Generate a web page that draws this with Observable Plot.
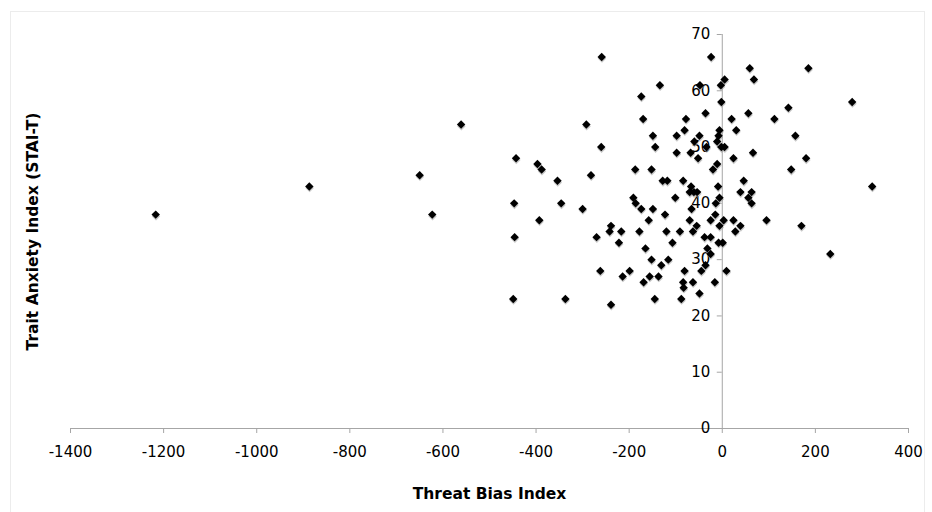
<!DOCTYPE html>
<html>
<head>
<meta charset="utf-8">
<script src="https://cdn.jsdelivr.net/npm/d3@7"></script>
<script src="https://cdn.jsdelivr.net/npm/@observablehq/plot@0.6"></script>
<style>
  html, body { margin: 0; padding: 0; background: #fff; }
  #wrap { position: relative; width: 932px; height: 512px; overflow: hidden; }
  #border { position: absolute; left: 10px; top: 11px; width: 915px; height: 520px; border: 1px solid #ececec; box-sizing: border-box; }
  #chart { position: absolute; left: 0; top: 0; }
</style>
</head>
<body>
<div id="wrap"><div id="border"></div><div id="chart"></div></div>
<script>
const threatBias = [
  -1217, -887, -650, -623, -561, -443, -397, -388, -354, -447, -346, -393, -446, -449, -337,
  -300, -292, -282, -259, -260, -270, -262, -239, -242, -217, -222, -239, -214, -199, -191,
  -186, -174, -187, -174, -170, -134, -178, -165, -158, -169, -156, -137, -149, -152, -149,
  -144, -128, -118, -123, -152, -131, -116, -120, -107, -145, -101, -98, -98, -81, -78,
  -84, -91, -88, -81, -84, -83, -67, -70, -61, -54, -66, -70, -55, -63, -63,
  -68, -60, -52, -49, -48, -36, -34, -24, -45, -49, -38, -25, -32, -25, -36,
  -25, -15, -16, -9, -6, -14, -6, -8, 1, 3, 9, -11, -20, -6, -8,
  -11, -2, 5, -3, 5, -2, 20, 30, 24, 24, 28, 39, 59, 68, 56,
  66, 46, 39, 63, 56, 63, 95, 112, 142, 157, 148, 180, 185, 170, 232,
  279, 322
];
const traitAnxiety = [
  38, 43, 45, 38, 54, 48, 47, 46, 44, 40, 40, 37, 34, 23, 23,
  39, 54, 45, 66, 50, 34, 28, 36, 35, 35, 33, 22, 27, 28, 41,
  40, 39, 46, 59, 55, 61, 35, 32, 37, 26, 27, 27, 39, 46, 52,
  50, 44, 44, 38, 30, 29, 30, 35, 33, 23, 41, 52, 49, 53, 55,
  44, 35, 23, 28, 26, 25, 43, 42, 42, 42, 39, 37, 36, 35, 26,
  49, 51, 48, 52, 61, 56, 50, 66, 28, 24, 34, 34, 32, 31, 29,
  37, 38, 26, 43, 41, 40, 36, 33, 33, 37, 28, 47, 46, 53, 52,
  51, 50, 50, 61, 62, 58, 55, 53, 48, 37, 35, 36, 64, 62, 56,
  49, 44, 42, 42, 41, 40, 37, 55, 57, 52, 46, 48, 64, 36, 31,
  58, 43
];
const xTicks = [-1400, -1200, -1000, -800, -600, -400, -200, 0, 200, 400];
const yTicks = [0, 10, 20, 30, 40, 50, 60, 70];
const xTitle = "Threat Bias Index";
const yTitle = "Trait Anxiety Index (STAI-T)";

const points = threatBias.map((x, i) => ({x, y: traitAnxiety[i]}));
const axisColor = "#a6a6a6";
const font = "Verdana, 'DejaVu Sans', sans-serif";

const chart = Plot.plot({
  width: 932,
  height: 512,
  marginLeft: 70,
  marginRight: 24,
  marginTop: 34,
  marginBottom: 84,
  style: {fontFamily: font, background: "transparent", color: "#000"},
  x: {domain: [-1400, 400], axis: null},
  y: {domain: [0, 70], axis: null},
  marks: [
    Plot.ruleY([0], {stroke: axisColor}),
    Plot.ruleX([0], {stroke: axisColor}),
    Plot.ruleX(xTicks, {x: d => d, y1: 0, y2: 0, insetBottom: -5, stroke: axisColor}),
    Plot.ruleY(yTicks, {y: d => d, x1: 0, x2: 0, insetLeft: -5, stroke: axisColor}),
    Plot.text(xTicks, {x: d => d, y: 0, text: d => String(d), dy: 24, fontSize: 15, fill: "#000"}),
    Plot.text(yTicks, {x: 0, y: d => d, text: d => String(d), textAnchor: "end", dx: -12, fontSize: 15, fill: "#000"}),
    Plot.dot(points, {x: "x", y: "y", symbol: "diamond2", r: 3.8, fill: "#999", fillOpacity: 0.55, stroke: null, dy: 1.6, dx: 0.3}),
    Plot.dot(points, {x: "x", y: "y", symbol: "diamond2", r: 3.8, fill: "#000", stroke: null}),
    Plot.text([xTitle], {frameAnchor: "bottom", textAnchor: "middle", lineAnchor: "middle", dy: 66, fontSize: 15.5, fontWeight: "bold", fill: "#000"}),
    Plot.text([yTitle], {frameAnchor: "left", textAnchor: "middle", lineAnchor: "middle", dx: -37, rotate: -90, fontSize: 15.5, fontWeight: "bold", fill: "#000"})
  ]
});
document.getElementById("chart").appendChild(chart);
</script>
</body>
</html>
